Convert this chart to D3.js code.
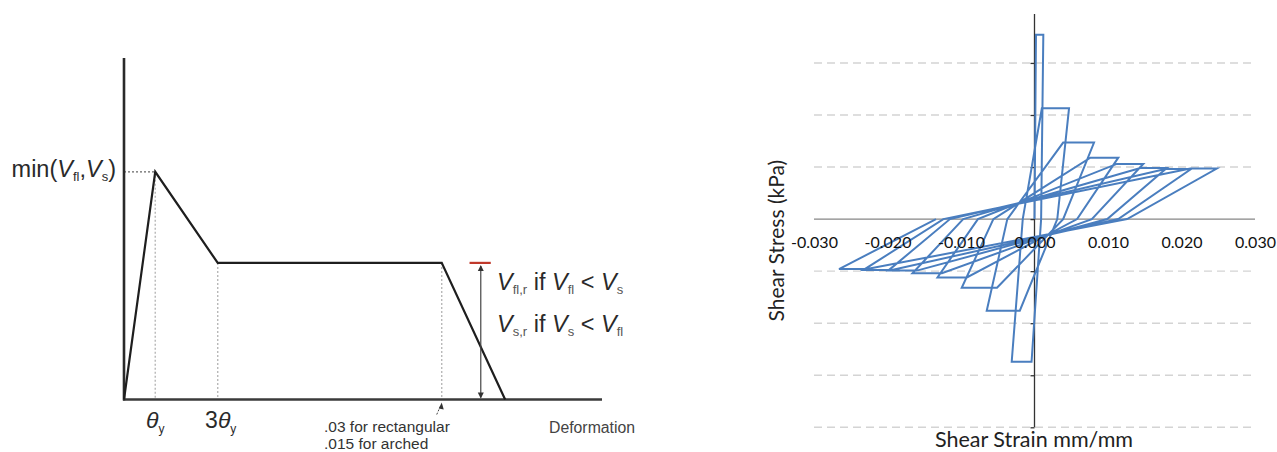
<!DOCTYPE html>
<html>
<head>
<meta charset="utf-8">
<script src="https://cdn.jsdelivr.net/npm/d3@7"></script>
<style>
  html, body { margin: 0; padding: 0; background: #fff; }
  svg { display: block; }
</style>
</head>
<body>
<script>
// ---------- Left chart: backbone curve (schematic) ----------
const envDeform = [0, 1, 3, 10.17, 12.2];
const envForce  = [0, 1, 0.6, 0.6, 0];
const guideDeform = [1, 3, 10.17];       // dotted verticals (θy, 3θy, .03/.015)
const residualDeform = 11.42;            // double arrow position
const residualForce = 0.6;

// ---------- Right chart: cyclic shear stress-strain ----------
const strain = [0,
  0.0002, 0.0012, 0.0009, -0.0004, -0.0031, -0.0016,
  0.0010, 0.0047, 0.0031, -0.0020, -0.0065, -0.0037,
  0.0039, 0.0081, 0.0039, -0.0051, -0.0099, -0.0056,
  0.0076, 0.0114, 0.0058, -0.0092, -0.0132, -0.0077,
  0.0112, 0.0148, 0.0078, -0.0126, -0.0166, -0.0097,
  0.0144, 0.0180, 0.0099, -0.0160, -0.0199, -0.0115,
  0.0178, 0.0213, 0.0114, -0.0194, -0.0233, -0.0124,
  0.0212, 0.0248, 0.0126, -0.0228, -0.0266, -0.0134];
const stress = [0,
  3.54, 3.54, 0, -2.74, -2.74, 0,
  2.13, 2.13, 0, -1.76, -1.76, 0,
  1.47, 1.47, 0, -1.32, -1.32, 0,
  1.18, 1.18, 0, -1.12, -1.12, 0,
  1.06, 1.06, 0, -1.04, -1.04, 0,
  0.98, 0.98, 0, -0.99, -0.99, 0,
  0.96, 0.96, 0, -0.98, -0.98, 0,
  0.97, 0.97, 0, -0.96, -0.96, 0];
const xTicks = [-0.03, -0.02, -0.01, 0, 0.01, 0.02, 0.03];
const yTicks = [-4, -3, -2, -1, 0, 1, 2, 3];

const W = 1277, H = 452;
const svg = d3.select("body").append("svg").attr("width", W).attr("height", H);
svg.append("rect").attr("width", W).attr("height", H).attr("fill", "#fff");

// ===== Left chart =====
const xL = d3.scaleLinear().domain([0, 15.3]).range([124, 602]);
const yL = d3.scaleLinear().domain([0, 1.5]).range([399.5, 58]);
const L = svg.append("g").attr("font-family", "'Liberation Sans', Arial, sans-serif").attr("fill", "#2a2a2a");

// dotted guides
L.append("line").attr("x1", xL(0)).attr("x2", xL(envDeform[1])).attr("y1", yL(envForce[1])).attr("y2", yL(envForce[1]))
  .attr("stroke", "#666").attr("stroke-width", 1.2).attr("stroke-dasharray", "2,2");
guideDeform.forEach((d, i) => {
  const top = i === 0 ? envForce[1] : residualForce;
  L.append("line").attr("x1", xL(d)).attr("x2", xL(d)).attr("y1", yL(top)).attr("y2", yL(0))
    .attr("stroke", "#b8b8b8").attr("stroke-width", 1.4).attr("stroke-dasharray", "2,2");
});

// axes
L.append("line").attr("x1", xL(0)).attr("x2", xL(0)).attr("y1", yL(1.5)).attr("y2", yL(0) + 1)
  .attr("stroke", "#2a2a2a").attr("stroke-width", 2.6);
L.append("line").attr("x1", xL(0) - 1).attr("x2", xL(15.3)).attr("y1", yL(0)).attr("y2", yL(0))
  .attr("stroke", "#3a3a3a").attr("stroke-width", 2.6);

// backbone
L.append("path")
  .attr("d", d3.line().x((d, i) => xL(envDeform[i])).y((d, i) => yL(envForce[i]))(envDeform))
  .attr("fill", "none").attr("stroke", "#1e1e1e").attr("stroke-width", 2.2).attr("stroke-linejoin", "miter");

// residual double arrow + red cap
const ax = xL(residualDeform);
L.append("line").attr("x1", ax).attr("x2", ax).attr("y1", yL(residualForce) + 3).attr("y2", yL(0) - 2)
  .attr("stroke", "#444").attr("stroke-width", 1.2);
L.append("path").attr("d", `M${ax - 3},${yL(residualForce) + 8} L${ax},${yL(residualForce) + 2} L${ax + 3},${yL(residualForce) + 8} Z`).attr("fill", "#333");
L.append("path").attr("d", `M${ax - 3},${yL(0) - 7} L${ax},${yL(0) - 1} L${ax + 3},${yL(0) - 7} Z`).attr("fill", "#333");
L.append("line").attr("x1", xL(residualDeform - 0.36)).attr("x2", xL(residualDeform + 0.32))
  .attr("y1", yL(residualForce)).attr("y2", yL(residualForce))
  .attr("stroke", "#c0392b").attr("stroke-width", 2.2);

// small pointer arrow under .03
const px = xL(guideDeform[2]);
L.append("line").attr("x1", px - 5).attr("y1", yL(0) + 15).attr("x2", px - 1).attr("y2", yL(0) + 6)
  .attr("stroke", "#444").attr("stroke-width", 1).attr("stroke-dasharray", "2,1.5");
L.append("path").attr("d", `M${px - 3},${yL(0) + 9} L${px},${yL(0) + 3} L${px + 2},${yL(0) + 10} Z`).attr("fill", "#333");

// labels
const minLbl = L.append("text").attr("x", 116).attr("y", 177).attr("text-anchor", "end").attr("font-size", 23.5);
minLbl.append("tspan").text("min(");
minLbl.append("tspan").attr("font-style", "italic").text("V");
minLbl.append("tspan").attr("font-size", 13).attr("dy", 4).text("fl");
minLbl.append("tspan").attr("dy", -4).text(",");
minLbl.append("tspan").attr("font-style", "italic").text("V");
minLbl.append("tspan").attr("font-size", 13).attr("dy", 4).text("s");
minLbl.append("tspan").attr("dy", -4).text(")");

const th1 = L.append("text").attr("x", xL(guideDeform[0])).attr("y", 428).attr("text-anchor", "middle").attr("font-size", 23);
th1.append("tspan").attr("font-style", "italic").text("θ");
th1.append("tspan").attr("font-size", 12).attr("dy", 5).text("y");
const th3 = L.append("text").attr("x", xL(guideDeform[1]) + 3).attr("y", 428).attr("text-anchor", "middle").attr("font-size", 23);
th3.append("tspan").text("3");
th3.append("tspan").attr("font-style", "italic").text("θ");
th3.append("tspan").attr("font-size", 12).attr("dy", 5).text("y");

L.append("text").attr("x", 324).attr("y", 432).attr("font-size", 15.5).attr("fill", "#333").text(".03 for rectangular");
L.append("text").attr("x", 324).attr("y", 449).attr("font-size", 15.5).attr("fill", "#333").text(".015  for arched");
L.append("text").attr("x", 549).attr("y", 433).attr("font-size", 15.8).attr("fill", "#444").text("Deformation");

function rLabel(y, a, aSub, b) {
  const t = L.append("text").attr("x", 497).attr("y", y).attr("font-size", 23.5);
  t.append("tspan").attr("font-style", "italic").text("V");
  t.append("tspan").attr("font-size", 13).attr("dy", 4).attr("fill", "#555").text(aSub);
  t.append("tspan").attr("dy", -4).text(" if ");
  t.append("tspan").attr("font-style", "italic").text("V");
  t.append("tspan").attr("font-size", 13).attr("dy", 4).attr("fill", "#555").text(a);
  t.append("tspan").attr("dy", -4).text(" < ");
  t.append("tspan").attr("font-style", "italic").text("V");
  t.append("tspan").attr("font-size", 13).attr("dy", 4).attr("fill", "#555").text(b);
}
rLabel(290, "fl", "fl,r", "s");
rLabel(332, "s", "s,r", "fl");

// ===== Right chart =====
const xR = d3.scaleLinear().domain([-0.03, 0.03]).range([814, 1255]);
const yR = d3.scaleLinear().domain([-4, 3.94]).range([427.3, 14]);
const R = svg.append("g").attr("font-family", "Lato, 'Open Sans', sans-serif");

// gridlines
R.append("g").selectAll("line").data(yTicks.filter(v => v !== 0)).join("line")
  .attr("x1", xR(-0.03)).attr("x2", xR(0.03))
  .attr("y1", d => yR(d)).attr("y2", d => yR(d))
  .attr("stroke", "#d4d4d4").attr("stroke-width", 1.4).attr("stroke-dasharray", "8,5");

// x axis line
R.append("line").attr("x1", xR(-0.03)).attr("x2", xR(0.03)).attr("y1", yR(0)).attr("y2", yR(0))
  .attr("stroke", "#868686").attr("stroke-width", 1.3);

// y axis with ticks
const yAxis = d3.axisLeft(yR).tickValues(yTicks).tickSize(4).tickFormat("");
const gy = R.append("g").attr("transform", `translate(${xR(0)},0)`).call(yAxis);
gy.select(".domain").remove();
gy.selectAll(".tick line").attr("stroke", "#333").attr("stroke-width", 1.3);
R.append("line").attr("x1", xR(0)).attr("x2", xR(0)).attr("y1", yR(3.94)).attr("y2", yR(-4))
  .attr("stroke", "#333").attr("stroke-width", 1.3);

// hysteresis line
R.append("path")
  .attr("d", d3.line().x((d, i) => xR(strain[i])).y((d, i) => yR(stress[i]))(strain))
  .attr("fill", "none").attr("stroke", "#4a7ebf").attr("stroke-width", 2).attr("stroke-linejoin", "miter");

// x tick labels
const xAxis = d3.axisBottom(xR).tickValues(xTicks).tickSize(0).tickPadding(0).tickFormat(d => d.toFixed(3));
const gx = R.append("g").attr("transform", `translate(0,${yR(0)})`).call(xAxis);
gx.select(".domain").remove();
gx.selectAll(".tick text").attr("font-family", "Lato, 'Open Sans', sans-serif").attr("font-size", 16)
  .attr("fill", "#111").attr("dy", 0).attr("y", 29);

// axis titles
R.append("text").attr("transform", `translate(784,${(yR(3.94) + yR(-4)) / 2 + 20}) rotate(-90)`)
  .attr("text-anchor", "middle").attr("font-size", 21).attr("fill", "#222").text("Shear Stress (kPa)");
R.append("text").attr("x", 1034).attr("y", 447).attr("text-anchor", "middle")
  .attr("font-size", 21.5).attr("fill", "#222").text("Shear Strain mm/mm");
</script>
</body>
</html>
